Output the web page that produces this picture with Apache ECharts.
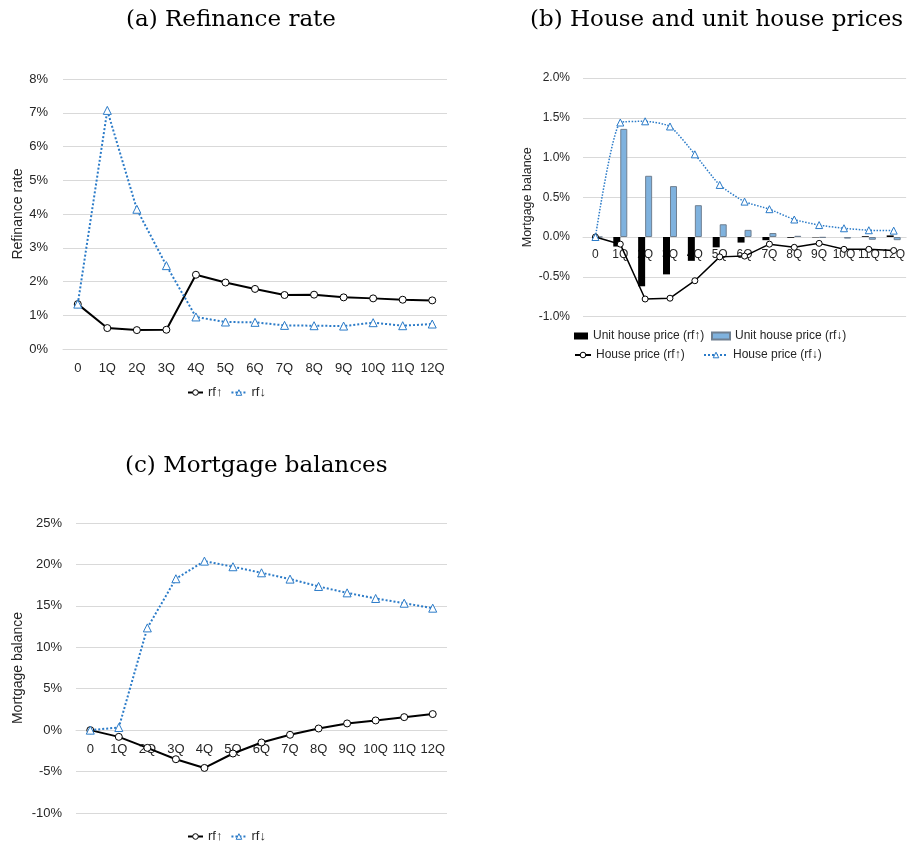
<!DOCTYPE html>
<html>
<head>
<meta charset="utf-8">
<title>Refinance rate, house prices and mortgage balances</title>
<script src="https://cdn.jsdelivr.net/npm/echarts@6/dist/echarts.min.js"></script>
<style>
  html, body { margin: 0; padding: 0; background: #fff; }
  #main { width: 908px; height: 846px; }
</style>
</head>
<body>
<div id="main"></div>
<script>
// quarters after the shock
var quarters = ['0', '1Q', '2Q', '3Q', '4Q', '5Q', '6Q', '7Q', '8Q', '9Q', '10Q', '11Q', '12Q'];

// (a) refinance rate, in %
var refiUp   = [1.33, 0.62, 0.56, 0.57, 2.20, 1.97, 1.78, 1.60, 1.61, 1.53, 1.50, 1.46, 1.44];
var refiDown = [1.33, 7.07, 4.14, 2.47, 0.95, 0.80, 0.79, 0.70, 0.69, 0.68, 0.78, 0.69, 0.74];

// (b) unit house price (bars) and house price (lines), in %
var unitPriceUp   = [0, -0.12, -0.62, -0.47, -0.30, -0.13, -0.07, -0.04, -0.01, -0.005, 0, 0.01, 0.02];
var unitPriceDown = [0, 1.36, 0.77, 0.64, 0.40, 0.16, 0.09, 0.05, 0.015, -0.01, -0.02, -0.035, -0.04];
var housePriceUp   = [0, -0.09, -0.78, -0.77, -0.55, -0.25, -0.24, -0.09, -0.13, -0.08, -0.155, -0.155, -0.17];
var housePriceDown = [0, 1.44, 1.455, 1.39, 1.04, 0.655, 0.445, 0.35, 0.22, 0.15, 0.11, 0.085, 0.08];

// (c) mortgage balances, in %
var mortUp   = [0, -0.81, -2.14, -3.51, -4.56, -2.82, -1.49, -0.56, 0.20, 0.81, 1.17, 1.57, 1.94];
var mortDown = [0, 0.32, 12.34, 18.27, 20.40, 19.72, 18.99, 18.23, 17.34, 16.57, 15.89, 15.32, 14.72];

var BLUE = '#2b7bc8';
var GRID_C = '#d9d9d9';
var TXT = '#262626';
var SANS = 'Liberation Sans';
var SERIF = 'DejaVu Serif';

var chart = echarts.init(document.getElementById('main'));

// category axis; shift moves it up so it sits on the 0 line
function xAx(idx, fs, margin, shift) {
  return {
    type: 'category', gridIndex: idx, data: quarters, boundaryGap: true,
    offset: -shift,
    axisLine: { onZero: false, lineStyle: { color: GRID_C } },
    axisTick: { show: false },
    axisLabel: { interval: 0, color: TXT, fontSize: fs, fontFamily: SANS, margin: margin }
  };
}
function yAx(idx, min, max, step, dec, name, fs, nfs, gap, margin) {
  return {
    type: 'value', gridIndex: idx, min: min, max: max, interval: step,
    name: name, nameLocation: 'middle', nameRotate: 90, nameGap: gap,
    nameTextStyle: { color: TXT, fontSize: nfs, fontFamily: SANS },
    axisLine: { show: false }, axisTick: { show: false },
    splitLine: { lineStyle: { color: GRID_C } },
    axisLabel: { color: TXT, fontSize: fs, fontFamily: SANS, margin: margin,
      formatter: function (v) { return v.toFixed(dec) + '%'; } }
  };
}
function upLine(name, data, idx, lw, ss) {
  return {
    name: name, type: 'line', xAxisIndex: idx, yAxisIndex: idx, data: data,
    symbol: 'circle', symbolSize: ss,
    lineStyle: { color: '#000', width: lw },
    itemStyle: { color: '#fff', borderColor: '#000', borderWidth: 1 }
  };
}
function downLine(name, data, idx, lw, ss, smooth) {
  return {
    name: name, type: 'line', xAxisIndex: idx, yAxisIndex: idx, data: data,
    symbol: 'triangle', symbolSize: ss, smooth: smooth || false,
    lineStyle: { color: BLUE, width: lw, type: 'dotted' },
    itemStyle: { color: '#fff', borderColor: BLUE, borderWidth: 1 }
  };
}
var upMark = { color: '#fff', borderColor: '#000', borderWidth: 1 };
var downMark = { color: '#fff', borderColor: BLUE, borderWidth: 1 };
function leg(left, top, items, iw, gap, fs) {
  return {
    left: left, top: top, padding: 0, itemGap: gap, itemWidth: iw, itemHeight: 7,
    data: items, selectedMode: false,
    textStyle: { color: TXT, fontSize: fs, fontFamily: SANS }
  };
}

var titleFont = { fontFamily: SERIF, fontSize: 23, fontWeight: 'normal', color: '#000' };

var option = {
  animation: false,
  backgroundColor: '#fff',
  title: [
    { text: '(a) Refinance rate', left: 126, top: 9, padding: 0, textStyle: titleFont },
    { text: '(b) House and unit house prices', left: 530, top: 9, padding: 0, textStyle: titleFont },
    { text: '(c) Mortgage balances', left: 125, top: 455, padding: 0, textStyle: titleFont }
  ],
  legend: [
    leg(187, 386, [{ name: 'rf↑', itemStyle: upMark }, { name: 'rf↓', itemStyle: downMark }], 15, 8, 13),
    leg(574, 330, [{ name: 'Unit house price (rf↑)', icon: 'rect' }], 14, 0, 12),
    leg(711, 330, [{ name: 'Unit house price (rf↓)', icon: 'rect' }], 18, 0, 12),
    leg(574, 349, [{ name: 'House price (rf↑)', itemStyle: upMark }], 16, 0, 12),
    leg(703, 349, [{ name: 'House price (rf↓)', itemStyle: downMark }], 24, 0, 12),
    leg(187, 830, [{ name: 'rf↑', itemStyle: upMark }, { name: 'rf↓', itemStyle: downMark }], 15, 8, 13)
  ],
  grid: [
    { left: 63, top: 79, width: 384, height: 270 },
    { left: 583, top: 78, width: 324, height: 238.5 },
    { left: 76, top: 523, width: 371, height: 290 }
  ],
  xAxis: [
    xAx(0, 13, 13, 0),
    xAx(1, 12, 12, 238.5 / 3),
    xAx(2, 13, 13, 290 * 10 / 35)
  ],
  yAxis: [
    yAx(0, 0, 8, 1, 0, 'Refinance rate', 13, 14, 38, 15),
    yAx(1, -1, 2, 0.5, 1, 'Mortgage balance', 12, 12.5, 49, 13),
    yAx(2, -10, 25, 5, 0, 'Mortgage balance', 13, 14, 51, 14)
  ],
  series: [
    upLine('rf↑', refiUp, 0, 2, 7),
    downLine('rf↓', refiDown, 0, 2, 8),
    {
      name: 'Unit house price (rf↑)', type: 'bar', xAxisIndex: 1, yAxisIndex: 1,
      data: unitPriceUp, barWidth: 7, barGap: '0%',
      itemStyle: { color: '#000' }
    },
    {
      name: 'Unit house price (rf↓)', type: 'bar', xAxisIndex: 1, yAxisIndex: 1,
      data: unitPriceDown, barWidth: 7, barGap: '0%',
      itemStyle: { color: '#7fb2de', borderColor: '#6f7f90', borderWidth: 1 }
    },
    upLine('House price (rf↑)', housePriceUp, 1, 1.5, 6),
    downLine('House price (rf↓)', housePriceDown, 1, 1.5, 7, 0.2),
    upLine('rf↑', mortUp, 2, 2, 7),
    downLine('rf↓', mortDown, 2, 2, 8)
  ]
};
chart.setOption(option);
</script>
</body>
</html>
